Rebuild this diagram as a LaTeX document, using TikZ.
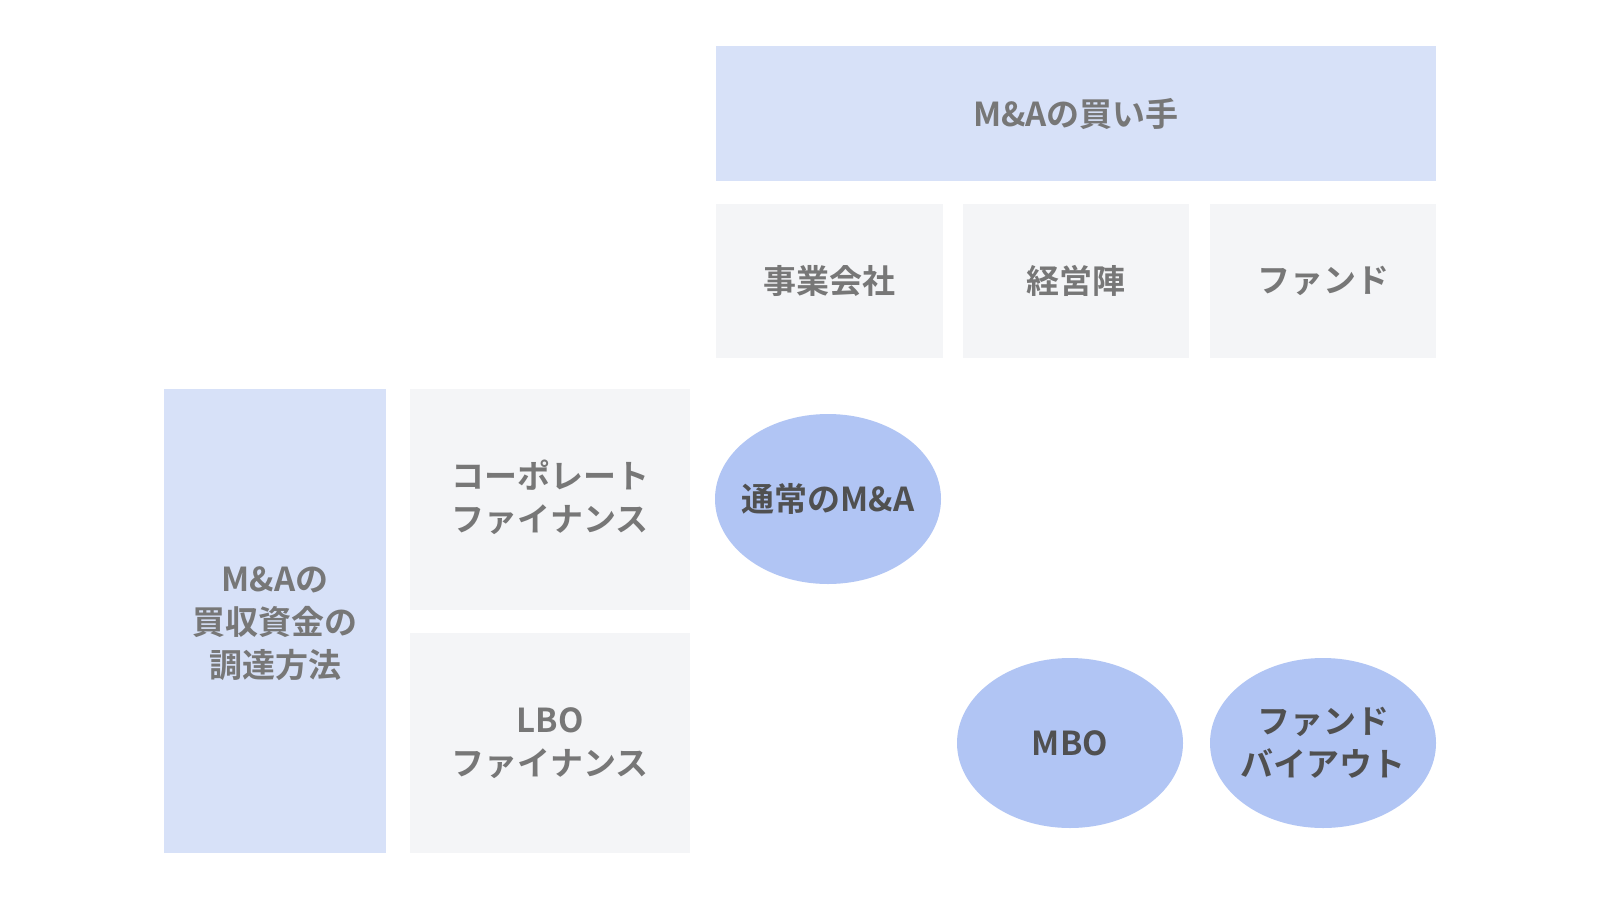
\documentclass[tikz,border=0pt]{standalone}
\usepackage{fontspec}
\setmainfont{Noto Sans CJK JP}[BoldFont={* Bold}]
\usetikzlibrary{shapes.geometric}
\definecolor{hdrblue}{HTML}{D7E1F8}
\definecolor{cellgray}{HTML}{F4F5F7}
\definecolor{ovalblue}{HTML}{B1C5F4}
\definecolor{txtgray}{HTML}{777777}
\definecolor{txtdark}{HTML}{505050}
\tikzset{
  x=1pt,y=-1pt,
  lbl/.style={font=\fontsize{33}{43}\selectfont\bfseries, align=center, inner sep=0pt},
  hdr/.style={lbl, fill=hdrblue, text=txtgray},
  cell/.style={lbl, fill=cellgray, text=txtgray},
  oval/.style={ellipse, fill=ovalblue, inner sep=0pt, minimum width=226pt, minimum height=170pt},
  ovaltext/.style={lbl, text=txtdark}
}
\begin{document}
\begin{tikzpicture}
\useasboundingbox (0,0) rectangle (1600,900);
\fill[white] (0,0) rectangle (1600,900);
% top header
\node[hdr, minimum width=720pt, minimum height=135pt] (buyer) at (1076,113.5) {M\&Aの買い手};
\node[cell, minimum width=227pt, minimum height=154pt] (corp) at (829.5,281) {事業会社};
\node[cell, minimum width=226pt, minimum height=154pt] (mgmt) at (1076,281) {経営陣};
\node[cell, minimum width=226pt, minimum height=154pt] (fund) at (1323,281) {ファンド};
% left header
\node[hdr, minimum width=222pt, minimum height=464pt] (finance) at (275,621) {};
\node[lbl, text=txtgray] (financetext) at (275,624) {M\&Aの\\買収資金の\\調達方法};
\node[cell, minimum width=280pt, minimum height=221pt] (cf) at (550,499.5) {};
\node[lbl, text=txtgray] (cftext) at (550,497) {コーポレート\\ファイナンス};
\node[cell, minimum width=280pt, minimum height=220pt] (lbo) at (550,743) {LBO\\ファイナンス};
% ovals
\node[oval] (normal) at (828,499) {};
\node[ovaltext] (normaltext) at (normal) {通常のM\&A};
\node[oval] (mbo) at (1070,743) {};
\node[ovaltext] (mbotext) at (mbo) {MBO};
\node[oval] (fbo) at (1323,743) {};
\node[ovaltext] (fbotext) at (fbo) {ファンド\\バイアウト};
\end{tikzpicture}
\end{document}
